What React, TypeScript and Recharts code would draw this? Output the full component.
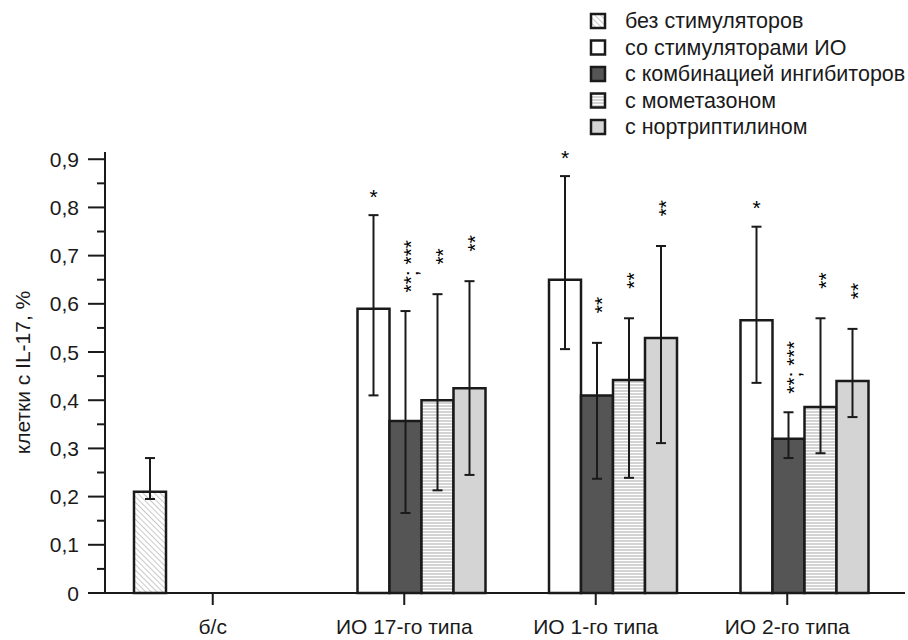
import { BarChart, Bar, XAxis, YAxis, ErrorBar } from "recharts";

const categories = ["б/с", "ИО 17-го типа", "ИО 1-го типа", "ИО 2-го типа"];
const seriesNames = [
  "без стимуляторов",
  "со стимуляторами ИО",
  "с комбинацией ингибиторов",
  "с мометазоном",
  "с нортриптилином",
];

// значения и границы разброса (нижняя / верхняя)
const noStim = [0.21, null, null, null];
const noStimLow = [0.195, null, null, null];
const noStimHigh = [0.28, null, null, null];

const stim = [null, 0.59, 0.65, 0.566];
const stimLow = [null, 0.41, 0.506, 0.436];
const stimHigh = [null, 0.784, 0.865, 0.76];

const combo = [null, 0.357, 0.41, 0.32];
const comboLow = [null, 0.166, 0.237, 0.28];
const comboHigh = [null, 0.585, 0.519, 0.375];

const mometasone = [null, 0.4, 0.442, 0.386];
const mometasoneLow = [null, 0.213, 0.239, 0.29];
const mometasoneHigh = [null, 0.62, 0.57, 0.57];

const nortriptyline = [null, 0.425, 0.529, 0.44];
const nortriptylineLow = [null, 0.245, 0.311, 0.365];
const nortriptylineHigh = [null, 0.647, 0.72, 0.548];

// значки достоверности
const stimMarks = ["", "*", "*", "*"];
const comboMarks = ["", "**; ***", "**", "**; ***"];
const mometasoneMarks = ["", "**", "**", "**"];
const nortriptylineMarks = ["", "**", "**", "**"];

const yTicks = [
  0, 0.05, 0.1, 0.15, 0.2, 0.25, 0.3, 0.35, 0.4, 0.45, 0.5, 0.55, 0.6, 0.65,
  0.7, 0.75, 0.8, 0.85, 0.9,
];

const FONT = "'Liberation Sans', Arial, sans-serif";
const INK = "#1a1a1a";
const FS = 21;

const err = (v: number | null, lo: number | null, hi: number | null) =>
  v == null || lo == null || hi == null ? null : [v - lo, hi - v];

const data = categories.map((cat, i) => ({
  cat,
  noStim: noStim[i],
  noStimErr: err(noStim[i], noStimLow[i], noStimHigh[i]),
  stim: stim[i],
  stimErr: err(stim[i], stimLow[i], stimHigh[i]),
  combo: combo[i],
  comboErr: err(combo[i], comboLow[i], comboHigh[i]),
  mometasone: mometasone[i],
  mometasoneErr: err(mometasone[i], mometasoneLow[i], mometasoneHigh[i]),
  nortriptyline: nortriptyline[i],
  nortriptylineErr: err(nortriptyline[i], nortriptylineLow[i], nortriptylineHigh[i]),
}));

const fills = ["url(#hatch)", "#ffffff", "#555555", "url(#stripes)", "#d4d4d4"];

function YTick(props: any) {
  const { x, y, payload } = props;
  const v = payload.value as number;
  const major = Math.round(v * 100) % 10 === 0;
  const label = v === 0 ? "0" : v.toFixed(1).replace(".", ",");
  return (
    <g>
      <line x1={x - (major ? 17 : 8)} x2={x} y1={y} y2={y} stroke={INK} strokeWidth={2} />
      {major && (
        <text
          x={x - 26}
          y={y}
          textAnchor="end"
          dominantBaseline="central"
          fontSize={FS}
          fontFamily={FONT}
          fill={INK}
        >
          {label}
        </text>
      )}
    </g>
  );
}

function YLabel(props: any) {
  const vb = props.viewBox || { y: 152, height: 441 };
  const cy = vb.y + vb.height / 2;
  return (
    <text
      transform={`translate(22, ${cy}) rotate(-90)`}
      textAnchor="middle"
      dominantBaseline="central"
      fontSize={FS}
      fontFamily={FONT}
      fill={INK}
    >
      клетки с IL-17, %
    </text>
  );
}

const makeMark =
  (marks: string[], values: (number | null)[], highs: (number | null)[]) =>
  (props: any) => {
    const { x, y, width, height } = props;
    const val = Array.isArray(props.value) ? props.value[1] : props.value;
    const i = values.findIndex((v) => v === val);
    if (i < 0) return null;
    const text = marks[i];
    const v = values[i];
    const hi = highs[i];
    if (!text || v == null || hi == null || !height) return null;
    const ppu = height / v;
    const capY = y + height - hi * ppu;
    const cx = x + width / 2;
    const fs = 21;
    if (text === "*") {
      return (
        <text
          x={cx}
          y={capY - 24 + 5}
          textAnchor="middle"
          dominantBaseline="central"
          fontSize={fs}
          fontFamily={FONT}
          fill="#000"
        >
          *
        </text>
      );
    }
    const cy = capY - (35 + 1.4 * text.length);
    return (
      <text
        transform={`translate(${cx + 0.58 * fs}, ${cy}) rotate(-90)`}
        textAnchor="middle"
        fontSize={fs}
        fontFamily={FONT}
        fill="#000"
      >
        {text}
      </text>
    );
  };

function Legend() {
  return (
    <svg
      width={323}
      height={135}
      style={{ position: "absolute", left: 585, top: 6 }}
    >
      <defs>
        <pattern id="lg-hatch" width="4" height="4" patternUnits="userSpaceOnUse" patternTransform="rotate(-45)">
          <rect width="4" height="4" fill="#fff" />
          <line x1="0" y1="0" x2="0" y2="4" stroke="#a5a5a5" strokeWidth="1.2" />
        </pattern>
        <pattern id="lg-stripes" width="4" height="3" patternUnits="userSpaceOnUse">
          <rect width="4" height="3" fill="#fff" />
          <line x1="0" y1="1" x2="4" y2="1" stroke="#a8a8a8" strokeWidth="1" />
        </pattern>
      </defs>
      {seriesNames.map((name, i) => {
        const cy = 15 + i * 26.5;
        const f = fills[i].replace("#hatch", "#lg-hatch").replace("#stripes", "#lg-stripes");
        return (
          <g key={name}>
            <rect x={6} y={cy - 7} width={14} height={14} fill={f} stroke={INK} strokeWidth={2.5} />
            <text
              x={40}
              y={cy}
              dominantBaseline="central"
              fontSize={21.5}
              fontFamily={FONT}
              fill={INK}
            >
              {name}
            </text>
          </g>
        );
      })}
    </svg>
  );
}

export default function App() {
  const barProps = {
    stroke: INK,
    strokeWidth: 2.5,
    isAnimationActive: false,
  };
  const errProps = {
    stroke: INK,
    strokeWidth: 2,
    width: 5,
    isAnimationActive: false,
  };
  return (
    <div style={{ position: "absolute", left: 0, top: 0, width: 908, height: 640, background: "#fff" }}>
      <BarChart
        width={908}
        height={640}
        data={data}
        margin={{ top: 152, right: 3, bottom: 0, left: 0 }}
        barCategoryGap={17}
        barGap={0}
      >
        <defs>
          <pattern id="hatch" width="4" height="4" patternUnits="userSpaceOnUse" patternTransform="rotate(-45)">
            <rect width="4" height="4" fill="#fff" />
            <line x1="0" y1="0" x2="0" y2="4" stroke="#a5a5a5" strokeWidth="1.2" />
          </pattern>
          <pattern id="stripes" width="4" height="3" patternUnits="userSpaceOnUse">
            <rect width="4" height="3" fill="#fff" />
            <line x1="0" y1="1" x2="4" y2="1" stroke="#a8a8a8" strokeWidth="1" />
          </pattern>
        </defs>
        <XAxis
          dataKey="cat"
          height={47}
          padding={{ left: 12, right: 22 }}
          axisLine={{ stroke: INK, strokeWidth: 2 }}
          tickLine={{ stroke: INK, strokeWidth: 2 }}
          tickSize={12}
          tickMargin={14}
          tick={{ fontSize: FS, fill: INK, fontFamily: FONT }}
        />
        <YAxis
          width={105}
          domain={[0, 0.915]}
          ticks={yTicks}
          interval={0}
          tickSize={0}
          tickMargin={0}
          tickLine={false}
          axisLine={{ stroke: INK, strokeWidth: 2 }}
          tick={<YTick />}
          label={<YLabel />}
        />
        <Bar dataKey="noStim" fill={fills[0]} {...barProps}>
          <ErrorBar dataKey="noStimErr" {...errProps} />
        </Bar>
        <Bar dataKey="stim" fill={fills[1]} {...barProps} label={makeMark(stimMarks, stim, stimHigh)}>
          <ErrorBar dataKey="stimErr" {...errProps} />
        </Bar>
        <Bar dataKey="combo" fill={fills[2]} {...barProps} label={makeMark(comboMarks, combo, comboHigh)}>
          <ErrorBar dataKey="comboErr" {...errProps} />
        </Bar>
        <Bar
          dataKey="mometasone"
          fill={fills[3]}
          {...barProps}
          label={makeMark(mometasoneMarks, mometasone, mometasoneHigh)}
        >
          <ErrorBar dataKey="mometasoneErr" {...errProps} />
        </Bar>
        <Bar
          dataKey="nortriptyline"
          fill={fills[4]}
          {...barProps}
          label={makeMark(nortriptylineMarks, nortriptyline, nortriptylineHigh)}
        >
          <ErrorBar dataKey="nortriptylineErr" {...errProps} />
        </Bar>
      </BarChart>
      <Legend />
    </div>
  );
}
